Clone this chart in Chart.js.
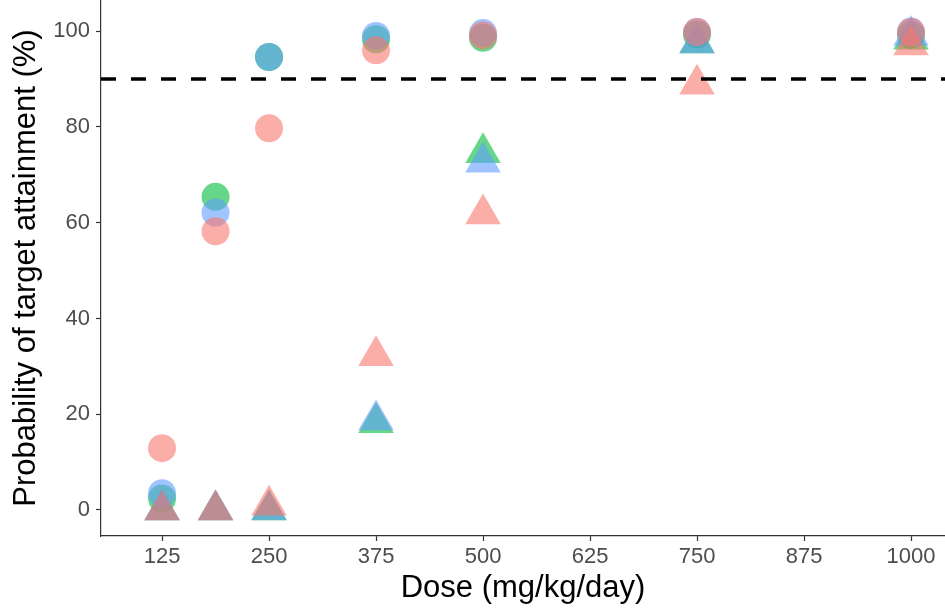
<!DOCTYPE html>
<html>
<head>
<meta charset="utf-8">
<script src="https://cdn.jsdelivr.net/npm/chart.js@4"></script>
<style>
  html, body { margin: 0; padding: 0; background: #ffffff; }
  #wrap { width: 945px; height: 608px; }
</style>
</head>
<body>
<div id="wrap"><canvas id="pta" width="945" height="608"></canvas></div>
<script>
// doses on the x axis (mg/kg/day)
const doses = [125, 187.5, 250, 375, 500, 750, 1000];

// circles
const circleRed   = [12.9, 58.2, 79.7, 96.0, 99.1, 99.8, 99.8];
const circleGreen = [2.4, 65.4, 94.6, 98.3, 98.6, 99.3, 99.2];
const circleBlue  = [3.5, 62.1, 94.6, 99.0, 99.6, 99.8, 99.9];

// triangles
const triRed   = [0, 0, 1.0, 32.2, 61.8, 88.9, 97.1];
const triGreen = [0, 0, 0, 18.2, 74.6, 97.5, 98.3];
const triBlue  = [0, 0, 0, 18.8, 72.6, 97.5, 99.1];

const targetLine = 90;
const xTicks = [125, 250, 375, 500, 625, 750, 875, 1000];
const yTicks = [0, 20, 40, 60, 80, 100];
const xMin = 53.7, xMax = 1039.7;
const yMin = -5.43, yMax = 106.5;

const RED = 'rgba(248,118,109,0.6)';
const GREEN = 'rgba(0,186,56,0.6)';
const BLUE = 'rgba(97,156,255,0.6)';

const FONT = "'Liberation Sans', Arial, sans-serif";

function toPoints(values) {
    return doses.map((d, i) => ({ x: d, y: values[i] }));
}

function pointSet(label, values, color, shape, order) {
    return {
        label: label,
        data: toPoints(values),
        pointStyle: shape,
        pointRadius: shape === 'triangle' ? 20.5 : 14,
        backgroundColor: color,
        borderColor: color,
        borderWidth: 0,
        order: order,
    };
}

// keep the plot area glued to the canvas edges
function noPad(scale) {
    scale.paddingTop = 0;
    scale.paddingBottom = 0;
    scale.paddingLeft = 0;
    scale.paddingRight = 0;
}

const datasets = [
    {
        label: 'Target',
        type: 'line',
        data: [{ x: xMin, y: targetLine }, { x: xMax, y: targetLine }],
        borderColor: '#000000',
        borderWidth: 3.5,
        borderDash: [15, 15],
        pointRadius: 0,
        fill: false,
        order: 0,
    },
    pointSet('Red circle', circleRed, RED, 'circle', 1),
    pointSet('Red triangle', triRed, RED, 'triangle', 2),
    pointSet('Blue circle', circleBlue, BLUE, 'circle', 3),
    pointSet('Blue triangle', triBlue, BLUE, 'triangle', 4),
    pointSet('Green circle', circleGreen, GREEN, 'circle', 5),
    pointSet('Green triangle', triGreen, GREEN, 'triangle', 6),
];

new Chart(document.getElementById('pta').getContext('2d'), {
    type: 'scatter',
    data: { datasets: datasets },
    options: {
        responsive: false,
        animation: false,
        events: [],
        layout: { padding: 0, autoPadding: false },
        plugins: {
            legend: { display: false },
            tooltip: { enabled: false },
        },
        scales: {
            x: {
                type: 'linear',
                min: xMin,
                max: xMax,
                afterBuildTicks: scale => { scale.ticks = xTicks.map(v => ({ value: v })); },
                afterFit: scale => { scale.height = 72; noPad(scale); },
                border: { display: true, color: '#333333', width: 1.2 },
                grid: { display: true, drawOnChartArea: false, drawTicks: true, tickLength: 5, tickColor: '#333333', tickWidth: 1.2 },
                ticks: {
                    color: '#4D4D4D',
                    font: { family: FONT, size: 22 },
                    padding: 3,
                    maxRotation: 0,
                    autoSkip: false,
                    callback: v => String(v),
                },
                title: {
                    display: true,
                    text: 'Dose (mg/kg/day)',
                    color: '#000000',
                    font: { family: FONT, size: 31 },
                    padding: { top: 0, bottom: 1 },
                },
            },
            y: {
                type: 'linear',
                min: yMin,
                max: yMax,
                afterBuildTicks: scale => { scale.ticks = yTicks.map(v => ({ value: v })); },
                afterFit: scale => { scale.width = 101; noPad(scale); },
                border: { display: true, color: '#333333', width: 1.2 },
                grid: { display: true, drawOnChartArea: false, drawTicks: true, tickLength: 5, tickColor: '#333333', tickWidth: 1.2 },
                ticks: {
                    color: '#4D4D4D',
                    font: { family: FONT, size: 22 },
                    padding: 6,
                    callback: v => String(v),
                },
                title: {
                    display: true,
                    text: 'Probability of target attainment (%)',
                    color: '#000000',
                    font: { family: FONT, size: 31 },
                    padding: { top: 8, bottom: 0 },
                },
            },
        },
    },
});
</script>
</body>
</html>
